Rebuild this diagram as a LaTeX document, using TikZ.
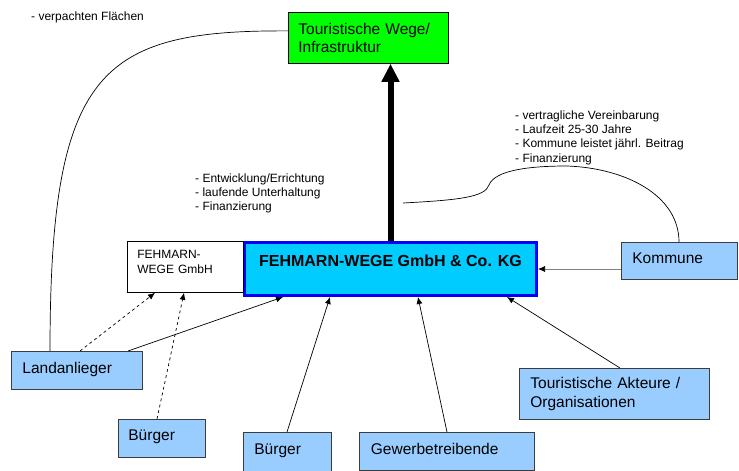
\documentclass[tikz,border=0pt]{standalone}
\usepackage{fontspec}
\setmainfont{Liberation Sans}
\usetikzlibrary{arrows.meta}
\definecolor{hellblau}{RGB}{153,204,255}
\definecolor{kgblau}{RGB}{0,204,255}
\definecolor{wegegruen}{RGB}{0,255,0}
\definecolor{rand}{RGB}{60,60,60}

\begin{document}
\begin{tikzpicture}[x=1pt,y=-1pt,
  kasten/.style={draw=rand,fill=hellblau,line width=0.8pt,anchor=north west,align=left,inner xsep=11pt,font=\fontsize{15.5}{18.5}\selectfont},
  einzeilig/.style={text depth=6pt},
  notiz/.style={anchor=north west,align=left,inner sep=0pt,font=\fontsize{12}{14.3}\selectfont},
  pfeil/.style={-{Latex[length=7pt,width=6pt]},line width=0.7pt}]
\useasboundingbox (0,0) rectangle (739,471);

% Kaesten
\node[kasten,fill=wegegruen,draw=black,inner xsep=10pt,text width=140,minimum height=51] (wege) at (288,12) {Touristische Wege/\\Infrastruktur};
\node[kasten,fill=kgblau,draw=blue,line width=3pt,minimum width=292,minimum height=53,text depth=16.7pt,font=\bfseries\fontsize{16}{19}\selectfont] (kg) at (243,241) {FEHMARN-WEGE GmbH \& Co. KG};
\node[kasten,fill=white,draw=black,inner xsep=10pt,text width=96,minimum height=51,text depth=25pt,font=\fontsize{12}{15}\selectfont] (gmbh) at (127,241) {FEHMARN-\\WEGE GmbH};
\node[kasten,einzeilig,text width=94,minimum height=37] (kommune) at (621,242) {Kommune};
\node[kasten,einzeilig,text width=109,minimum height=38] (land) at (11,351) {Landanlieger};
\node[kasten,einzeilig,inner xsep=10pt,text width=67,minimum height=38] (buerger1) at (118,419) {Bürger};
\node[kasten,einzeilig,text width=66,minimum height=39] (buerger2) at (243,432) {Bürger};
\node[kasten,einzeilig,inner xsep=11.5pt,text width=152,minimum height=38] (gewerbe) at (359,432) {Gewerbetreibende};
\node[kasten,text width=168,minimum height=51] (akteure) at (519,368) {Touristische Akteure /\\Organisationen};

% Notizen
\node[notiz] (pacht) at (31,12) {- verpachten Flächen};
\node[notiz] (leistung) at (195,173.5) {- Entwicklung/Errichtung\\- laufende Unterhaltung\\- Finanzierung};
\node[notiz] (vertrag) at (515,110.5) {- vertragliche Vereinbarung\\- Laufzeit 25-30 Jahre\\- Kommune leistet jährl. Beitrag\\- Finanzierung};

% Verbindungen
\draw [line width=6pt,-{Triangle[length=18pt,width=17pt]}] (kg.north) -- (kg.north |- wege.south);
\draw [line width=0.7pt] ([xshift=39pt]land.north west) .. controls (50,70) and (100,30) .. ([yshift=7pt]wege.west);
\coordinate (ende) at (403,203);
\draw [line width=0.7pt] (ende) .. controls (460,200) and (485,197) .. (489,185)
  .. controls (495,170) and (530,166) .. (567,166)
  .. controls (625,168) and (679,195) .. ([xshift=58pt]kommune.north west);
\draw [pfeil,draw=gray,-{Latex[length=7pt,width=6pt,color=black]}] (kommune.west |- kg.east) -- (kg.east);
\draw [pfeil,dashed] ([xshift=69pt]land.north west) -- ([xshift=28pt]gmbh.south west);
\draw [pfeil,dashed] ([xshift=39pt]buerger1.north west) -- ([xshift=57pt]gmbh.south west);
\draw [pfeil] ([xshift=117pt]land.north west) -- ([xshift=40pt]kg.south west);
\draw [pfeil] ([xshift=44pt]buerger2.north west) -- ([xshift=87pt]kg.south west);
\draw [pfeil] ([xshift=88pt]gewerbe.north west) -- ([xshift=175pt]kg.south west);
\draw [pfeil] ([xshift=101pt]akteure.north west) -- ([xshift=264pt]kg.south west);
\end{tikzpicture}
\end{document}
